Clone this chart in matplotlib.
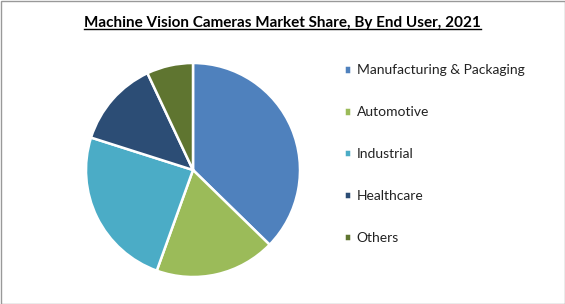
import matplotlib
matplotlib.use("Agg")
import matplotlib.pyplot as plt
from matplotlib.lines import Line2D
from matplotlib.patches import Rectangle

# Market share by end user, 2021 (%)
labels = ["Manufacturing & Packaging", "Automotive", "Industrial", "Healthcare", "Others"]
shares = [37.3, 18.2, 24.4, 13.1, 7.0]
colors = ["#4F81BD", "#9BBB59", "#4BACC6", "#2C4D75", "#5F7530"]
title = "Machine Vision Cameras Market Share, By End User, 2021"

plt.rcParams['font.family'] = ['Lato', 'DejaVu Sans']

W, H = 565, 304
fig = plt.figure(figsize=(W / 100, H / 100), dpi=100)

# pie area: centre (193, 170) px, radius 107 px
cx, cy, r = 193, 170, 107
ax = fig.add_axes([(cx - r) / W, (H - cy - r) / H, 2 * r / W, 2 * r / H])
wedges, _ = ax.pie(shares, colors=colors, startangle=90, counterclock=False,
                   wedgeprops=dict(edgecolor="white", linewidth=1.8))
ax.set_xlim(-1.0, 1.0)
ax.set_ylim(-1.0, 1.0)
ax.set_aspect("equal")

# title with underline
t = fig.text(0.5, 1 - 23 / H, title, ha="center", va="center",
             fontsize=11, fontweight="bold", color="black")
fig.canvas.draw()
bb = t.get_window_extent().transformed(fig.transFigure.inverted())
fig.add_artist(Line2D([bb.x0, bb.x1], [bb.y0 + 0.004, bb.y0 + 0.004],
                      transform=fig.transFigure, color="black", linewidth=1))

leg = fig.legend(wedges, labels, loc="upper left",
                 bbox_to_anchor=(331 / W, 1 - 52 / H), frameon=False,
                 fontsize=10, handlelength=0.55, handleheight=0.55,
                 handletextpad=0.4, labelspacing=2.15)
for txt in leg.get_texts():
    txt.set_color("#222222")

# outer border
fig.add_artist(Rectangle((0.5 / W, 0.5 / H), 1 - 1 / W, 1 - 1 / H,
                         transform=fig.transFigure, fill=False,
                         edgecolor="#999999", linewidth=1))

fig.savefig("out.png", dpi=100)
